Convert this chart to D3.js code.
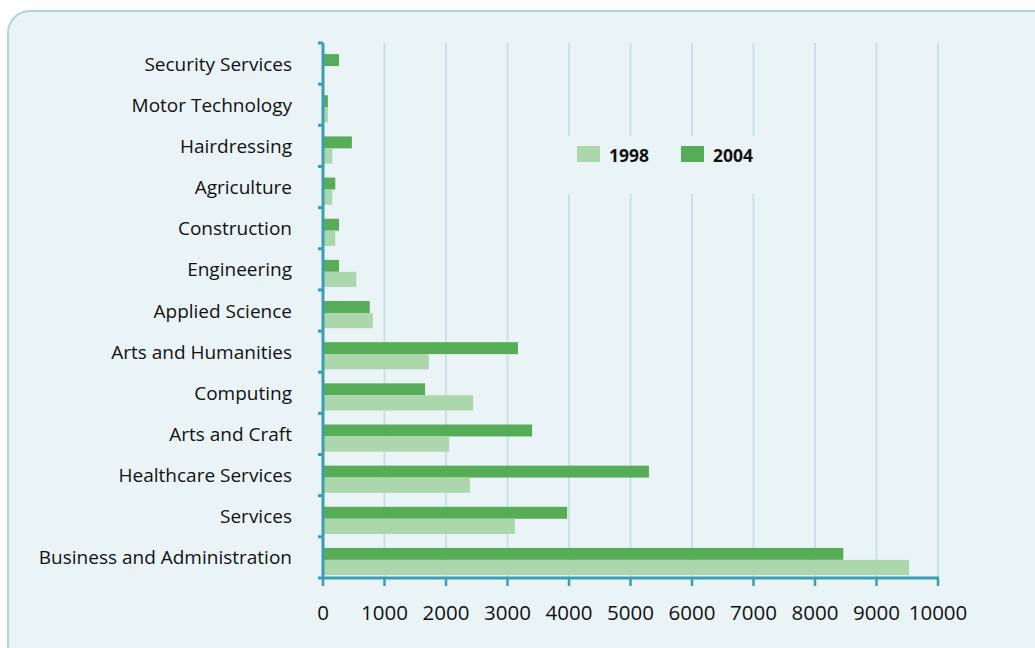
<!DOCTYPE html>
<html lang="en">
<head>
<meta charset="utf-8">
<title>Courses 1998 and 2004</title>
<script src="https://cdn.jsdelivr.net/npm/d3@7"></script>
<style>
  body { margin: 0; background: #fff; }
  text { font-family: "Open Sans", "Noto Sans", sans-serif; }
</style>
</head>
<body>
<div id="chart"></div>
<script>
// categories, top to bottom
var categories = ["Security Services", "Motor Technology", "Hairdressing", "Agriculture",
    "Construction", "Engineering", "Applied Science", "Arts and Humanities", "Computing",
    "Arts and Craft", "Healthcare Services", "Services", "Business and Administration"];
var values1998 = [0, 80, 150, 150, 200, 540, 810, 1720, 2440, 2050, 2390, 3120, 9530];
var values2004 = [260, 80, 470, 200, 260, 260, 760, 3170, 1660, 3400, 5300, 3970, 8460];
var xTicks = [0, 1000, 2000, 3000, 4000, 5000, 6000, 7000, 8000, 9000, 10000];
var seriesNames = ["1998", "2004"];

var W = 1035, H = 648;
var col = { light: "#acd6ac", dark: "#57ac57", axis: "#3b9db3", grid: "#c6e3e9", bg: "#eaf4f7", border: "#a9d6df" };

var svg = d3.select("#chart").append("svg").attr("width", W).attr("height", H);

// panel
svg.append("rect").attr("x", 8).attr("y", 11).attr("width", W + 20).attr("height", H + 20)
    .attr("rx", 22).attr("fill", col.bg).attr("stroke", col.border).attr("stroke-width", 2);

var x = d3.scaleLinear().domain([0, 10000]).range([323, 938]);
var y = d3.scaleBand().domain(categories).range([43, 578]);
var bw = y.bandwidth();

// gridlines
svg.append("g").selectAll("line").data(xTicks.slice(1)).enter().append("line")
    .attr("x1", function (d) { return x(d); }).attr("x2", function (d) { return x(d); })
    .attr("y1", 43).attr("y2", 578)
    .attr("stroke", col.grid).attr("stroke-width", 2);

// bars
var rows = categories.map(function (c, i) { return { c: c, a: values1998[i], b: values2004[i] }; });
var bars = svg.append("g");
bars.selectAll("rect.b").data(rows).enter().append("rect")
    .attr("x", x(0)).attr("y", function (d) { return y(d.c) + bw * 0.27; })
    .attr("width", function (d) { return x(d.b) - x(0); }).attr("height", bw * 0.29)
    .attr("fill", col.dark);
bars.selectAll("rect.a").data(rows).enter().append("rect")
    .attr("x", x(0)).attr("y", function (d) { return y(d.c) + bw * 0.56; })
    .attr("width", function (d) { return x(d.a) - x(0); }).attr("height", bw * 0.37)
    .attr("fill", col.light);

// legend (covers gridlines)
var lg = svg.append("g");
lg.append("rect").attr("x", 562).attr("y", 136).attr("width", 205).attr("height", 58).attr("fill", col.bg);
seriesNames.forEach(function (s, i) {
    var lx = 577 + i * 104;
    lg.append("rect").attr("x", lx).attr("y", 146).attr("width", 23).attr("height", 16)
        .attr("fill", i === 0 ? col.light : col.dark);
    lg.append("text").attr("x", lx + 32).attr("y", 162).text(s)
        .attr("font-size", 17.5).attr("font-weight", "bold").attr("fill", "#111");
});

// y axis
var yAxis = svg.append("g").attr("transform", "translate(" + x(0) + ",0)");
yAxis.append("line").attr("x1", 0).attr("x2", 0).attr("y1", 43).attr("y2", 579)
    .attr("stroke", col.axis).attr("stroke-width", 3);
var bounds = categories.map(function (c) { return y(c); }).concat([578]);
yAxis.selectAll("line.t").data(bounds).enter().append("line")
    .attr("x1", -5).attr("x2", 0).attr("y1", function (d) { return d; }).attr("y2", function (d) { return d; })
    .attr("stroke", col.axis).attr("stroke-width", 3);
svg.append("g").selectAll("text").data(categories).enter().append("text")
    .attr("x", 292).attr("y", function (d) { return y(d) + bw / 2 + 7; })
    .attr("text-anchor", "end")
    .attr("font-size", 19).attr("fill", "#111").text(function (d) { return d; });

// x axis
var xAxis = svg.append("g").attr("transform", "translate(0,578)");
xAxis.append("line").attr("x1", x(0) - 1).attr("x2", x(10000) + 1).attr("y1", 0).attr("y2", 0)
    .attr("stroke", col.axis).attr("stroke-width", 3);
xAxis.selectAll("line.t").data(xTicks).enter().append("line")
    .attr("x1", function (d) { return x(d); }).attr("x2", function (d) { return x(d); })
    .attr("y1", 0).attr("y2", 8).attr("stroke", col.axis).attr("stroke-width", 2.5);
xAxis.selectAll("text").data(xTicks).enter().append("text")
    .attr("x", function (d) { return x(d); }).attr("y", 42)
    .attr("text-anchor", "middle").attr("font-size", 20.5).attr("fill", "#111")
    .text(function (d) { return d; });
</script>
</body>
</html>
